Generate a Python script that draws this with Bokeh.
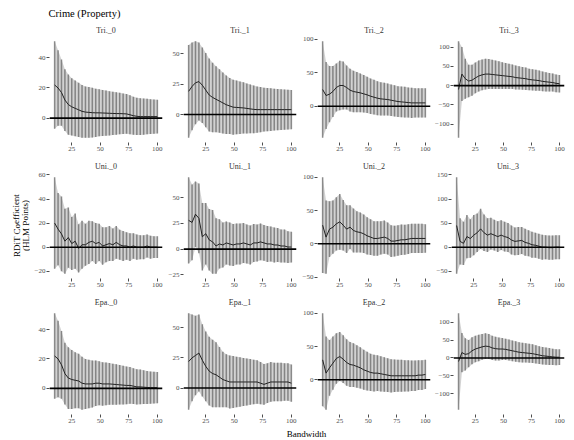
from bokeh.plotting import figure
from bokeh.layouts import row, column
from bokeh.models import FixedTicker, Span, Range1d
from bokeh.core.properties import value
from bokeh.embed import file_html
from bokeh.resources import INLINE

# Bandwidths at which the RDiT model was estimated
bandwidth = [10, 13, 16, 19, 22, 25, 28, 31, 34, 37, 40, 43, 46, 49, 52, 55,
             58, 61, 64, 67, 70, 73, 76, 79, 82, 85, 88, 91, 94, 97, 100]
x_ticks = [25, 50, 75, 100]

# Point estimates (est) and 95% CI half-widths (ci), one pair per kernel/order
tri0_est = [22, 20, 17, 12, 9, 7.5, 6.5, 5.5, 4.5, 4, 3.8, 3.6, 3.5, 3.5, 3.4, 3.3, 3.2, 3.1, 3, 3, 2.9, 2.8, 2.2, 1.6, 1.2, 1, 1, 1, 1, 1, 1]
tri0_ci = [29, 25, 22, 20.5, 20, 19, 18.5, 18, 17.5, 17, 16.8, 16.5, 16, 15.6, 15.3, 15, 14.7, 14.4, 14.1, 13.8, 13.5, 13.2, 12.9, 12.6, 12.4, 12.2, 12, 11.8, 11.6, 11.4, 11.2]
tri0_ticks = [0, 20, 40]

tri1_est = [19, 23, 26, 27, 24, 20, 16, 14, 12.5, 11, 9.5, 8, 7, 6, 5.8, 5.6, 5.4, 5, 4.6, 4.2, 4, 4, 4, 4, 4, 4, 4, 4, 4, 4, 4]
tri1_ci = [38, 36, 34, 32, 31, 30.5, 30, 28.5, 27, 26, 25, 24, 23, 22.5, 22, 21.5, 21, 20.5, 20, 19.5, 19, 18.5, 18, 17.8, 17.5, 17.2, 17, 16.8, 16.5, 16.3, 16]
tri1_ticks = [-25, 0, 25, 50]

tri2_est = [25, 16, 18, 22, 28, 31, 31, 28, 24, 22, 21, 20, 18.5, 17, 15, 13.5, 12, 11, 10.5, 10, 9, 8, 7, 6.5, 6, 5.5, 5, 5, 5, 5, 5]
tri2_ci = [72, 50, 42, 38, 36, 37, 36, 33, 32, 31, 30, 29, 28, 27, 26.5, 26, 25.5, 25, 24.5, 24, 23.5, 23.5, 23, 23, 23, 22.5, 22.5, 22, 22, 22, 22]
tri2_ticks = [0, 50, 100]

tri3_est = [-10, 30, 18, 12, 14, 20, 25, 28, 30, 30, 29, 28, 27, 26, 25, 24, 23, 21, 20, 19, 18, 16, 15, 14, 13, 11, 10, 9, 8, 6, 5]
tri3_ci = [125, 70, 52, 42, 40, 40, 40, 40, 40, 39, 38, 37, 36, 35, 34, 33, 32, 31, 30, 29.5, 29, 28, 27.5, 27, 26, 25.5, 25, 24, 23.5, 23, 22.5]
tri3_ticks = [-100, -50, 0, 50, 100]

uni0_est = [20, 15, 11, 5, 8, 3, 5, -1, 2, 2, 4, 5, 3, 4, 1, 2, 3, 2, 4, 2, 1, 1, 0, 1, 0, 0, 0, 1, 0, 0, 0]
uni0_ci = [38, 30, 31, 27, 25, 22, 23, 20, 20, 17.5, 18, 16.5, 17, 15.5, 15.5, 14.5, 14.5, 13.5, 13.5, 12.5, 12.5, 11.5, 11.5, 10.5, 10.5, 10, 10, 9.5, 9.5, 9, 9]
uni0_ticks = [-20, 0, 20, 40, 60]

uni1_est = [28, 26, 34, 30, 12, 15, 9, 7, 3, 5, 4, 6, 5, 4, 5, 5, 6, 5, 4, 6, 6, 7, 6, 5, 5, 4, 4, 3, 3, 2, 2]
uni1_ci = [42, 37, 32, 34, 33, 30, 30, 31, 27, 24, 22, 21, 21, 20.5, 20, 20, 19.5, 19, 19, 18.5, 18, 18, 17.5, 17.5, 17, 17, 16.5, 16, 16, 15.5, 15]
uni1_ticks = [-25, 0, 25, 50]

uni2_est = [28, 10, 22, 25, 30, 33, 28, 22, 25, 20, 18, 17, 15, 12, 10, 8, 8, 9, 10, 8, 4, 4, 5, 6, 6, 7, 8, 8, 8, 8, 8]
uni2_ci = [72, 55, 42, 40, 40, 42, 38, 36, 33, 33, 31, 30, 29, 28, 27, 26, 26, 25, 25, 24, 24, 23, 23, 23, 22.5, 22.5, 22, 22, 22, 22, 21.5]
uni2_ticks = [-50, 0, 50, 100]

uni3_est = [45, 12, 8, 22, 18, 25, 30, 38, 30, 25, 28, 25, 22, 25, 22, 20, 15, 12, 13, 14, 10, 8, 5, 4, 2, 0, 0, -1, -1, 0, 0]
uni3_ci = [100, 48, 45, 45, 40, 42, 40, 42, 38, 35, 33, 32, 32, 31, 31, 30, 30, 29, 29, 28, 28, 27, 27, 26, 26, 26, 25, 25, 25, 25, 25]
uni3_ticks = [-50, 0, 50, 100, 150]

epa0_est = [22, 20, 16, 10, 7, 6, 5.5, 5, 3.5, 3, 3, 3, 3.5, 3.5, 3, 3, 3, 2.8, 2.6, 2.4, 2.2, 2, 2, 1.5, 1, 1, 0.8, 0.6, 0.5, 0.5, 0.5]
epa0_ci = [29, 26, 23, 21, 21, 20, 19, 18.5, 18, 17, 16.5, 16, 15.5, 15, 14.8, 14.5, 14.2, 14, 13.7, 13.4, 13.1, 12.8, 12.5, 12.2, 12, 11.8, 11.5, 11.2, 11, 10.8, 10.6]
epa0_ticks = [0, 20, 40]

epa1_est = [22, 25, 27, 29, 23, 18, 14, 12, 11, 9, 7, 6, 5, 5, 5, 5, 5, 5, 5, 5, 5, 4, 3, 4, 5, 5, 5, 5, 5, 5, 4]
epa1_ci = [40, 36, 33, 32, 30, 29, 28.5, 28, 27, 25, 23, 22, 22, 21.5, 21, 20.5, 20, 19.5, 19, 18.5, 18, 17.5, 17, 16.5, 16.5, 16, 16, 16, 15.5, 15.5, 15.5]
epa1_ticks = [-25, 0, 25, 50]

epa2_est = [30, 10, 18, 25, 32, 35, 31, 26, 23, 22, 20, 18, 15, 13, 11, 10, 10, 9, 8, 7, 6, 6, 6, 6, 6, 6, 6, 6, 7, 7, 8]
epa2_ci = [70, 55, 42, 40, 38, 37, 36, 35, 34, 33, 32, 31, 30, 29, 28, 27.5, 27, 26.5, 26, 25.5, 25, 24.5, 24, 24, 23.5, 23.5, 23, 23, 22.5, 22.5, 22]
epa2_ticks = [0, 50, 100]

epa3_est = [-10, 15, 10, 12, 20, 25, 28, 31, 33, 32, 28, 26, 25, 25, 24, 22, 20, 18, 16, 15, 14, 13, 12, 10, 8, 6, 5, 4, 3, 2, 2]
epa3_ci = [135, 55, 45, 38, 38, 37, 37, 36, 36, 35, 34, 33, 32, 31, 30, 29.5, 29, 28.5, 28, 27.5, 27, 26.5, 26, 25.5, 25, 24.5, 24, 23.5, 23, 22.5, 22]
epa3_ticks = [-100, -50, 0, 50, 100]

panels = [
    ("Tri._0", tri0_est, tri0_ci, tri0_ticks),
    ("Tri._1", tri1_est, tri1_ci, tri1_ticks),
    ("Tri._2", tri2_est, tri2_ci, tri2_ticks),
    ("Tri._3", tri3_est, tri3_ci, tri3_ticks),
    ("Uni._0", uni0_est, uni0_ci, uni0_ticks),
    ("Uni._1", uni1_est, uni1_ci, uni1_ticks),
    ("Uni._2", uni2_est, uni2_ci, uni2_ticks),
    ("Uni._3", uni3_est, uni3_ci, uni3_ticks),
    ("Epa._0", epa0_est, epa0_ci, epa0_ticks),
    ("Epa._1", epa1_est, epa1_ci, epa1_ticks),
    ("Epa._2", epa2_est, epa2_ci, epa2_ticks),
    ("Epa._3", epa3_est, epa3_ci, epa3_ticks),
]

FONT = "Liberation Serif"
PANEL_W, PANEL_H = 134, 136
LABEL_W = 30
TITLE_H = 19
XLAB_H = 440 - TITLE_H - 3 * PANEL_H


def make_panel(title, est, ci, ticks):
    lo = [e - c for e, c in zip(est, ci)]
    hi = [e + c for e, c in zip(est, ci)]
    ymin, ymax = min(lo), max(hi)
    pad = 0.05 * (ymax - ymin)
    p = figure(width=PANEL_W, height=PANEL_H, title=title,
               x_range=Range1d(5.5, 104.5), y_range=Range1d(ymin - pad, ymax + pad),
               output_backend="svg", toolbar_location=None,
               min_border_left=19, min_border_right=2,
               min_border_top=17, min_border_bottom=13)
    p.title.align = "center"
    p.title.text_font = FONT
    p.title.text_font_style = "normal"
    p.title.text_font_size = "8px"
    p.title.text_color = "#333333"
    p.title.standoff = 3
    p.title.offset = 0

    # confidence band + individual interval bars
    p.varea(x=bandwidth, y1=lo, y2=hi, fill_color="#b4b4b4", fill_alpha=0.6)
    p.segment(x0=bandwidth, y0=lo, x1=bandwidth, y1=hi,
              line_color="#707070", line_width=1.5, line_alpha=0.8)
    p.add_layout(Span(location=0, dimension="width", line_color="black", line_width=1.6))
    p.line(bandwidth, est, line_color="#222222", line_width=1)

    p.xaxis.ticker = FixedTicker(ticks=x_ticks)
    p.yaxis.ticker = FixedTicker(ticks=ticks)
    for ax in (p.xaxis, p.yaxis):
        ax.axis_line_color = None
        ax.major_tick_out = 3
        ax.major_tick_in = 0
        ax.major_tick_line_color = "#4d4d4d"
        ax.minor_tick_line_color = None
        ax.major_label_text_font = FONT
        ax.major_label_text_font_size = "7px"
        ax.major_label_text_color = "#4d4d4d"
        ax.major_label_standoff = 1
    p.grid.visible = False
    p.outline_line_color = None
    return p


def blank(width, height):
    f = figure(width=width, height=height, x_range=Range1d(0, width), y_range=Range1d(0, height),
               x_axis_type=None, y_axis_type=None, output_backend="svg", toolbar_location=None,
               min_border=0)
    f.grid.visible = False
    f.outline_line_color = None
    return f


figs = [make_panel(*pnl) for pnl in panels]
rows = [row(*figs[i:i + 4], spacing=0) for i in range(0, 12, 4)]

grid_w = 4 * PANEL_W

title_fig = blank(grid_w, TITLE_H)
title_fig.text(x=[18], y=[TITLE_H - 13], text=["Crime (Property)"], text_font=value(FONT),
               text_font_size="10.5px", text_color="black",
               text_align="left", text_baseline="middle")

xlab_fig = blank(grid_w, XLAB_H)
xlab_fig.text(x=[grid_w / 2 + 8], y=[XLAB_H / 2], text=["Bandwidth"], text_font=value(FONT),
              text_font_size="9px", text_color="black",
              text_align="center", text_baseline="middle")

ylab_fig = blank(LABEL_W, 440)
ylab_fig.text(x=[16, 25], y=[440 - 225, 440 - 225], text=["RDiT Coefficient", "(HLM Points)"],
              angle=1.5708, text_font=value(FONT), text_font_size="9px", text_color="black",
              text_align="center", text_baseline="middle")

layout = row(ylab_fig, column(title_fig, *rows, xlab_fig, spacing=0), spacing=0)

open("out.html", "w").write(file_html(layout, INLINE))
